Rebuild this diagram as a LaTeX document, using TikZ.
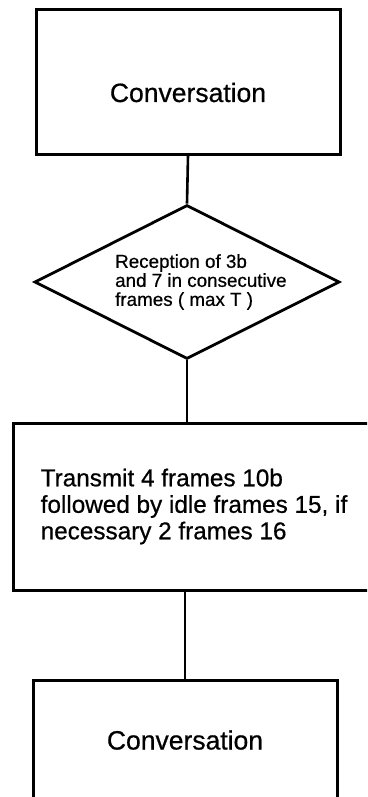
\documentclass[tikz,border=0pt]{standalone}
\usepackage{fontspec}
\setmainfont[FakeBold=0.6]{Liberation Sans}
\usetikzlibrary{shapes.geometric}
\begin{document}
\begin{tikzpicture}[x=1pt,y=1pt,
  box/.style={draw,line width=3pt,inner xsep=0pt,inner ysep=0pt},
  decision/.style={draw,diamond,line width=2.8pt,inner sep=0pt,minimum width=305pt,minimum height=154pt},
  conn/.style={line width=2.6pt},
  bigtext/.style={font=\fontsize{26.5}{28}\selectfont},
  midtext/.style={font=\fontsize{24.3}{26.5}\selectfont},
  smalltext/.style={font=\fontsize{18.8}{19}\selectfont}]
\useasboundingbox (0,0) rectangle (367,-797);
\clip (0,0) rectangle (367,-797);
% top box
\node[box,bigtext,minimum width=304pt,text height=92pt,text depth=52pt] (b1) at (188,-82) {Conversation};
% decision
\node[decision] (d) at (187,-282) {};
\node[smalltext,align=left,inner sep=0pt,anchor=west] (dt) at (115,-282) {Reception of 3b\\and 7 in consecutive\\frames ( max T )};
% action box
\node[box,midtext,minimum width=362pt,minimum height=167pt,align=left] (b2) at (194,-506.5) {Transmit 4 frames 10b\\followed by idle frames 15, if\\necessary 2 frames 16};
% bottom box
\node[box,bigtext,minimum width=304pt,text height=69pt,text depth=60pt] (b3) at (185,-745) {Conversation};
% connectors
\draw[conn] (b1.south) -- (d.north);
\draw[conn] (d.south) -- (d.south |- b2.north);
\draw[conn] (b3.north |- b2.south) -- (b3.north);
\end{tikzpicture}
\end{document}
